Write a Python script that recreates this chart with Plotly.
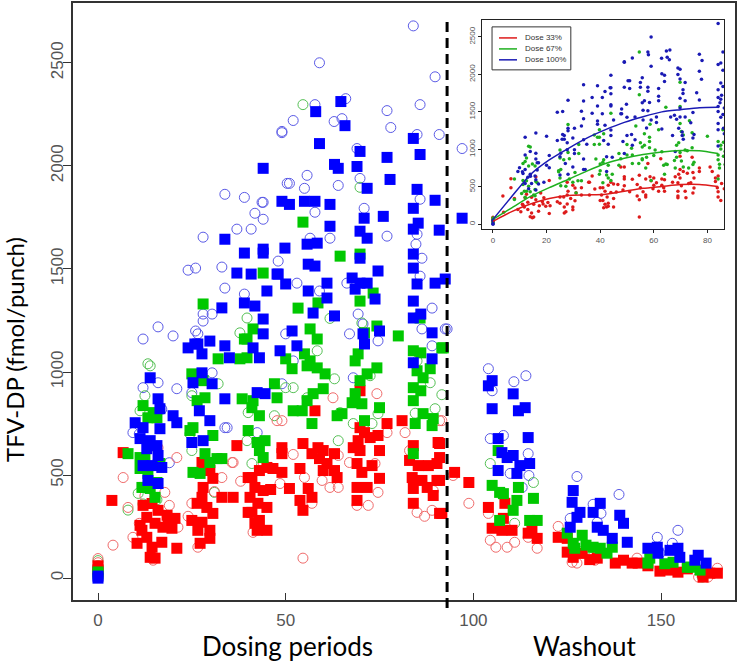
import plotly.graph_objects as go

# ---------------- main plot data (day, TFV-DP fmol/punch) ----------------
red_sq_x = [0, 0, 3.7, 6.7, 12, 14.4, 16, 18.4, 20.5, 13, 11.2, 15.2, 17.3, 19.7, 10.4, 13, 14.4, 17, 21, 13.9, 15.2, 11.7, 18.7,
            27.7, 29.8, 30.6, 28, 27.7, 33, 36, 26.4, 29, 30.6, 25, 27.7, 26.6, 29.8, 27.2, 29.8, 37,
            41, 43, 45, 41.8, 44, 40.5, 42.6, 45, 41, 43, 41.8, 42.4, 45, 40, 40, 49, 49, 46.6, 49, 51, 46,
            57.8, 54.6, 58.6, 60, 57, 59, 63, 61, 53.8, 63, 60, 63.7, 56, 57, 53.8, 54.6,
            69.8, 69.8, 71, 68, 72.5, 74.6, 77, 69.3, 69.8, 75, 69, 73, 70.3, 75, 69, 71.7, 69,
            81, 84, 90.6, 83, 85.3, 88, 90.3, 83.7, 86.3, 90.3, 84, 87.7, 89.3, 84, 91, 91, 91, 91, 91.6,
            95, 98.8,
            104, 108.4, 105, 107.6, 110.3, 108, 115.6, 117, 114.6,
            122.6, 125, 125, 126.6, 133, 137.8, 140, 142.3, 143.9, 129, 131,
            149.7, 152.4, 154.5, 161, 163, 165, 161.2, 146.5, 157]
red_sq_y = [40, 60, 377, 609, 353, 362, 329, 305, 290, 295, 256, 266, 247, 242, 169, 198, 150, 174, 145, 101, 97, 232, 271,
            561, 522, 484, 440, 392, 392, 392, 363, 343, 314, 280, 271, 232, 232, 169, 193, 643,
            488, 522, 537, 440, 425, 392, 363, 343, 319, 280, 266, 232, 232, 488, 319, 633, 604, 532, 513, 435, 430,
            812, 653, 633, 619, 604, 580, 604, 556, 532, 522, 522, 488, 435, 392, 377, 329,
            909, 730, 706, 633, 682, 692, 750, 667, 619, 619, 556, 546, 513, 484, 440, 440, 377,
            764, 643, 658, 571, 546, 546, 556, 488, 474, 474, 435, 440, 401, 363, 314, 653, 585, 474, 314,
            513, 464,
            343, 363, 242, 232, 232, 290, 232, 193, 218,
            198, 193, 126, 101, 97, 73, 87, 73, 73, 120, 90,
            34, 39, 29, 29, 24, 24, 5, 60, 45]

red_ci_x = [0, 0, 4, 6.7, 8, 21, 17.8, 19, 9.3, 11, 16, 21.3, 14.7, 12.5,
            25, 33, 36, 26.6, 24, 31, 35.7,
            41.3, 43, 47.7, 49, 48.5, 54.6, 38, 44,
            64, 62.6, 59.7, 61.8, 64, 57, 55, 52,
            74.3, 77, 67, 73.8, 74.6, 72, 69,
            81.8, 91, 85, 89, 83, 89.3, 91.6, 87,
            98.8, 94.6,
            104.5, 106, 109, 111, 117, 104, 114.6,
            122.6, 126.3, 127.6, 132.4, 143.6,
            160, 162.5, 165]
red_ci_y = [95, 75, 160, 488, 343, 585, 416, 353, 198, 266, 633, 247, 87, 400,
            363, 488, 561, 150, 300, 420, 561,
            222, 240, 764, 764, 459, 97, 470, 560,
            595, 875, 474, 440, 440, 363, 488, 600,
            895, 706, 561, 556, 416, 353, 353,
            706, 764, 319, 329, 619, 425, 764, 300,
            363, 498,
            184, 150, 150, 174, 145, 314, 198,
            251, 77, 73, 87, 97,
            5, 5, 48]

green_sq_x = [0, 0, 8, 12, 13.3, 15.7, 11.2, 12.5, 11.2, 13.3, 16.5, 12.5, 15.7, 13.9, 14.7, 11.7, 15.2,
              32, 25, 28, 28.5, 26.4, 25.3, 30.6, 28.5, 31.7, 25.3, 27.2, 29.8, 33, 24.5, 28,
              37.8, 39, 39.7, 38.4, 41.3, 41, 43, 40, 42.4, 43, 44.5, 44, 50, 47, 47.7, 51.7, 52, 44, 41.3, 39.7,
              53.3, 58.6, 56.5, 58.4, 55, 56.5, 55.7, 58.4, 60.5, 57.3, 60, 54.4, 57, 63.7, 65, 55.7, 54.6, 64.5,
              69.8, 69.8, 73.3, 74.3, 71, 69.3, 68.5, 71.7, 74.3, 69.8, 68.5, 67.7, 70.3, 75, 71, 80,
              85.8, 84, 86, 88.5, 85, 86.6, 84, 86, 84, 86.6, 84.5, 89, 89.3, 84, 91.6, 92,
              106.6, 105, 107, 108, 112, 111.6, 110.6, 116, 115, 117, 107,
              125, 129, 127, 131.9, 133.8, 135.6, 137, 126.6, 130,
              146.5, 147, 153.2, 157, 158, 160.4, 151]
green_sq_y = [30, 20, 604, 837, 778, 778, 585, 580, 532, 508, 556, 440, 464, 435, 803, 440, 392,
              1064, 991, 958, 875, 861, 730, 692, 604, 580, 513, 508, 561, 580, 716, 1330,
              1064, 1160, 1069, 870, 861, 827, 788, 716, 658, 619, 667, 585, 1064, 943, 875, 1016, 812, 1480, 1209, 1160,
              1310, 1335, 1209, 1160, 1088, 1054, 1030, 1020, 991, 895, 919, 812, 750, 788, 798, 861, 1727, 1562,
              1572, 1344, 1383, 1223, 1190, 1088, 1054, 991, 1020, 958, 895, 851, 846, 827, 764, 1175,
              1262, 1103, 1093, 1016, 1006, 972, 924, 909, 861, 798, 750, 740, 774, 604, 1117, 1117,
              619, 450, 416, 410, 440, 377, 329, 387, 280, 280, 280,
              218, 208, 145, 150, 145, 121, 150, 169, 160,
              73, 97, 77, 53, 53, 39, 70]

green_ci_x = [0, 0, 13.3, 13.9, 12.5, 11.2, 16, 10.7, 8, 12, 15.7,
              25, 24.5, 32, 25, 31,
              40, 39.7, 41, 47, 50, 52, 39.7, 37.8,
              58.4, 55.7, 63, 64.5, 59, 64, 54.6, 61.8,
              72.5, 74.6, 73, 68, 70.3, 69.8,
              85, 88.5, 89.8, 84.5, 91.6,
              104.5, 116, 111,
              131.6, 129,
              161]
green_ci_y = [85, 60, 1040, 1030, 885, 812, 570, 411, 330, 360, 380,
              885, 700, 943, 619, 416,
              803, 667, 556, 788, 924, 924, 1262, 1190,
              1103, 875, 967, 803, 585, 667, 2297, 1260,
              982, 798, 750, 750, 1238, 1896,
              1054, 948, 822, 800, 890,
              556, 464, 266,
              101, 130,
              5]

blue_sq_x = [0, 0, 13.9, 16, 16.5, 20, 21, 9.9, 12, 16.5, 11.2, 13.9, 15.7, 13, 16, 17, 14.4, 12, 13.3, 16,
             24, 26.6, 29.8, 27.7, 33.8, 35, 25.3, 27.7, 30.4, 27, 29.8, 25, 28, 33.8, 33.8, 37, 33, 25.8,
             41.3, 43, 44, 42.4, 44.5, 44, 49, 39, 44, 40.8, 48, 39, 41.8, 44, 45, 50, 47.7, 51.7, 48.5, 53, 51, 49.8, 44,
             56, 57.8, 56, 61, 61, 57.3, 63, 55, 57.8, 61.8, 58, 59, 63, 64, 64.7, 65.8, 61.8, 55.7, 58.4,
             67.7, 69.8, 71.7, 74.6, 68.5, 73.8, 75, 71, 70.6, 69.8, 69.8, 69, 71.7, 70.9, 76, 77.8, 77, 69.8, 71.7,
             84, 84, 85, 84, 84, 86, 89.8, 92.5, 89, 89, 84, 84, 85.8, 85, 84, 89.8, 85.3, 84, 90.9,
             104, 105, 105, 110.6, 112, 113.8, 114.6, 106.6, 107.6, 109, 110.6, 112.4, 115, 111.6, 106.6,
             126.6, 126.3, 128.4, 127.6, 133.8, 131.9, 133, 134.6, 137, 139, 140, 141, 125.8,
             146.5, 149, 149.2, 152.4, 154.5, 155, 159.9, 159, 162]
blue_sq_y = [0, 10, 972, 870, 822, 788, 754, 754, 730, 725, 677, 667, 643, 628, 595, 537, 546, 546, 474, 459,
             1117, 1136, 1150, 1088, 1127, 1069, 948, 996, 943, 812, 764, 658, 667, 870, 1644, 1480, 1311, 1136,
             1117, 1069, 1185, 900, 895, 1988, 1828, 1577, 1577, 1475, 1475, 1335, 1320, 1257, 1393, 1427, 1475, 1199, 1103, 1127, 1813, 1601, 1596,
             1523, 1514, 1393, 1431, 1359, 1286, 1272, 1828, 1828, 1813, 2263, 2108, 2007, 1988, 2312, 2195, 1707, 1620, 1625,
             1456, 1431, 1431, 1490, 1402, 1354, 1199, 1136, 1185, 1552, 2070, 1997, 1891, 1746, 1755, 1934, 2041, 1683, 1649,
             1572, 1504, 1427, 1344, 1262, 1281, 1431, 1451, 1190, 1064, 1045, 2133, 2055, 1886, 1794, 1833, 1722, 1693, 1688,
             933, 958, 822, 894, 812, 827, 682, 677, 609, 585, 595, 546, 556, 508, 522,
             425, 368, 319, 295, 363, 319, 247, 232, 193, 305, 266, 174, 247,
             145, 150, 121, 135, 145, 101, 111, 87, 73]

blue_ci_x = [0, 12, 16, 20, 12, 16, 21, 9.3, 11, 14, 17, 19,
             26.6, 30.4, 33.8, 25, 33.8, 28, 24, 26, 33, 33.8, 37, 26, 28, 28, 30.4, 34.4,
             39, 43.7, 40.8, 39, 49, 50.4, 42.4, 48, 50, 52, 49, 44, 41.8, 44, 51, 49, 52,
             53, 59, 59, 57.8, 62.9, 65, 55.7, 55, 64, 57.8, 61.8, 56.5, 66,
             66.3, 69.3, 70.6, 74.6, 67, 68, 69, 69.8, 70.9, 77, 78, 77,
             86.3, 85.8, 89, 89, 92.5, 86.3, 84, 89.8, 85.8, 85, 90.9, 85.8, 85, 84.7, 93,
             104, 105, 110.8, 114, 104.5, 108, 114.6, 114.8, 109.8, 113,
             127.6, 138.8, 131.9, 134, 133, 125.8,
             149, 154.5, 153, 149.7]
blue_ci_y = [50, 1160, 1219, 1175, 924, 948, 919, 706, 700, 640, 820, 560,
             1185, 996, 730, 900, 1862, 1654, 1494, 1504, 1509, 1407, 1693, 1199, 1281, 1247, 1281, 730,
             1847, 1823, 1693, 1378, 2161, 1915, 706, 1538, 1185, 1054, 943, 1823, 1770, 1741, 1915, 2167, 2220,
             1431, 1393, 2500, 2297, 2215, 2229, 1954, 1891, 1905, 1775, 1649, 1649, 2326,
             1431, 1281, 1233, 1151, 1185, 972, 2084, 1939, 1794, 2268, 2186, 1659,
             1552, 1465, 1310, 1127, 1209, 1209, 2679, 2432, 2297, 2152, 2152, 1838, 1668, 1620, 1209,
             1016, 909, 953, 982, 677, 692, 604, 498, 508, 440,
             493, 406, 358, 314, 271, 290,
             198, 232, 169, 121]

# keys of the original (mostly hidden) marker legend, left of the inset
key_x = [97, 97]
key_y = [2084, 1746]

# ---------------- inset fitted curves ----------------
fit_days = [0, 7, 14, 21, 28, 35, 42, 49, 56, 63, 70, 77, 84]
fit_33 = [40, 170, 270, 345, 385, 392, 400, 440, 480, 505, 530, 532, 505]
fit_67 = [66, 220, 372, 490, 598, 710, 811, 880, 931, 965, 984, 980, 944]
fit_100 = [66, 370, 665, 860, 1011, 1150, 1263, 1360, 1436, 1500, 1529, 1555, 1560]

washout_start = 93
x_ticks = [0, 50, 100, 150]
y_ticks = [0, 500, 1000, 1500, 2000, 2500]
inset_x_ticks = [0, 20, 40, 60, 80]
inset_y_ticks = [0, 500, 1000, 1500, 2000, 2500]
dose_labels = ["Dose 33%", "Dose 67%", "Dose 100%"]

RED, GREEN, BLUE = "#ff0000", "#00c800", "#0000ff"
RED_C, GREEN_C, BLUE_C = "#f06a6a", "#55c055", "#5a5ae6"
RED_I, GREEN_I, BLUE_I = "#dd1a1a", "#1fb01f", "#1a1ab4"

fig = go.Figure()

def circles(xs, ys, col):
    fig.add_trace(go.Scatter(x=xs, y=ys, mode="markers", showlegend=False, hoverinfo="skip",
                             marker=dict(symbol="circle-open", size=10, color=col, line=dict(width=1))))

def squares(xs, ys, col):
    fig.add_trace(go.Scatter(x=xs, y=ys, mode="markers", showlegend=False, hoverinfo="skip",
                             marker=dict(symbol="square", size=11, color=col, line=dict(width=0))))

circles(blue_ci_x, blue_ci_y, BLUE_C)
circles(green_ci_x, green_ci_y, GREEN_C)
circles(red_ci_x, red_ci_y, RED_C)
squares(red_sq_x, red_sq_y, RED)
squares(green_sq_x, green_sq_y, GREEN)
squares(blue_sq_x, blue_sq_y, BLUE)
circles(key_x[:1], key_y[:1], BLUE_C)
squares(key_x[1:], key_y[1:], BLUE)

# ---------------- inset: dosing-period data ----------------
def dosing(xa, ya, xb, yb):
    px, py = [], []
    for x, y in list(zip(xa, ya)) + list(zip(xb, yb)):
        if x <= 88:
            px.append(x)
            py.append(y)
    return px, py

for (xa, ya, xb, yb, col) in [(red_sq_x, red_sq_y, red_ci_x, red_ci_y, RED_I),
                               (green_sq_x, green_sq_y, green_ci_x, green_ci_y, GREEN_I),
                               (blue_sq_x, blue_sq_y, blue_ci_x, blue_ci_y, BLUE_I)]:
    ix, iy = dosing(xa, ya, xb, yb)
    fig.add_trace(go.Scatter(x=ix, y=iy, mode="markers", xaxis="x2", yaxis="y2", showlegend=False,
                             hoverinfo="skip", marker=dict(size=3.5, color=col, line=dict(width=0))))

for vals, col in [(fit_33, RED_I), (fit_67, GREEN_I), (fit_100, BLUE_I)]:
    fig.add_trace(go.Scatter(x=fit_days, y=vals, mode="lines", xaxis="x2", yaxis="y2", showlegend=False,
                             hoverinfo="skip", line=dict(color=col, width=1.5, shape="spline", smoothing=0.6)))

tickfont = dict(family="Liberation Sans, Arial, sans-serif", size=17, color="#555555")
ax_common = dict(showline=True, mirror=True, linecolor="#333333", linewidth=1.5, showgrid=False,
                 zeroline=False, tickcolor="#333333", tickfont=tickfont)

XR = [-6.66, 169.7]
YR = [-106, 2790]

fig.update_layout(
    width=742, height=661,
    margin=dict(l=73, r=7, t=1, b=61),
    paper_bgcolor="white", plot_bgcolor="white",
    xaxis=dict(domain=[0, 1], range=XR, tickvals=x_ticks, ticks="inside", ticklen=7,
               ticklabelstandoff=4, **ax_common),
    yaxis=dict(domain=[0, 1], range=YR, tickvals=y_ticks, ticks="outside", ticklen=8, tickangle=-90,
               ticklabelstandoff=-7, **ax_common),
    xaxis2=dict(domain=[0.6178, 0.9834], anchor="y2", range=[-4.1, 86.2], tickvals=inset_x_ticks,
                ticks="outside", ticklen=3, showline=True, mirror=True, linecolor="#222", linewidth=1,
                showgrid=False, zeroline=False, tickcolor="#222",
                tickfont=dict(family="Liberation Sans, Arial, sans-serif", size=8, color="#555")),
    yaxis2=dict(domain=[0.621, 0.9716], anchor="x2", range=[-66, 2726], tickvals=inset_y_ticks,
                ticks="outside", ticklen=3, tickangle=-90, showline=True, mirror=True, linecolor="#222",
                linewidth=1, showgrid=False, zeroline=False, tickcolor="#222",
                tickfont=dict(family="Liberation Sans, Arial, sans-serif", size=8, color="#555")),
)

# dashed line separating dosing from washout
fig.add_shape(type="line", xref="x", yref="paper", x0=washout_start, x1=washout_start, y0=-0.0134, y1=0.977,
              line=dict(color="black", width=3, dash="10px,6px"), layer="above")

# inset legend (drawn manually to match the compact R legend)
leg_x0, leg_x1, leg_y0, leg_y1 = 0.633, 0.752, 0.888, 0.960
fig.add_shape(type="rect", xref="paper", yref="paper", x0=leg_x0, x1=leg_x1, y0=leg_y0, y1=leg_y1,
              line=dict(color="#333", width=1), fillcolor="white", layer="above")
row_y = [0.9415, 0.9231, 0.9048]
for lab, col, ry in zip(dose_labels, [RED_I, GREEN_I, BLUE_I], row_y):
    fig.add_shape(type="line", xref="paper", yref="paper", x0=0.6435, x1=0.6707, y0=ry, y1=ry,
                  line=dict(color=col, width=1.5), layer="above")
    fig.add_annotation(text=lab, xref="paper", yref="paper", x=0.6797, y=ry, xanchor="left", yanchor="middle",
                       showarrow=False, font=dict(family="Liberation Sans, Arial, sans-serif", size=8, color="#333"))

title_font = dict(family="Lato, Open Sans, sans-serif", size=26, color="black")
fig.add_annotation(text="TFV-DP (fmol/punch)", xref="paper", yref="paper", x=-0.088, y=0.42,
                   textangle=-90, showarrow=False, xanchor="center", yanchor="middle",
                   font=dict(family="Lato, Open Sans, sans-serif", size=24, color="black"))
fig.add_annotation(text="Dosing periods", xref="paper", yref="paper", x=0.3233, y=-0.0768,
                   showarrow=False, xanchor="center", yanchor="middle", font=title_font)
fig.add_annotation(text="Washout", xref="paper", yref="paper", x=0.772, y=-0.0768,
                   showarrow=False, xanchor="center", yanchor="middle", font=title_font)

fig.write_html("out.html", config={"displayModeBar": False},
               post_script="document.body.style.margin='0';document.body.style.padding='0';")
